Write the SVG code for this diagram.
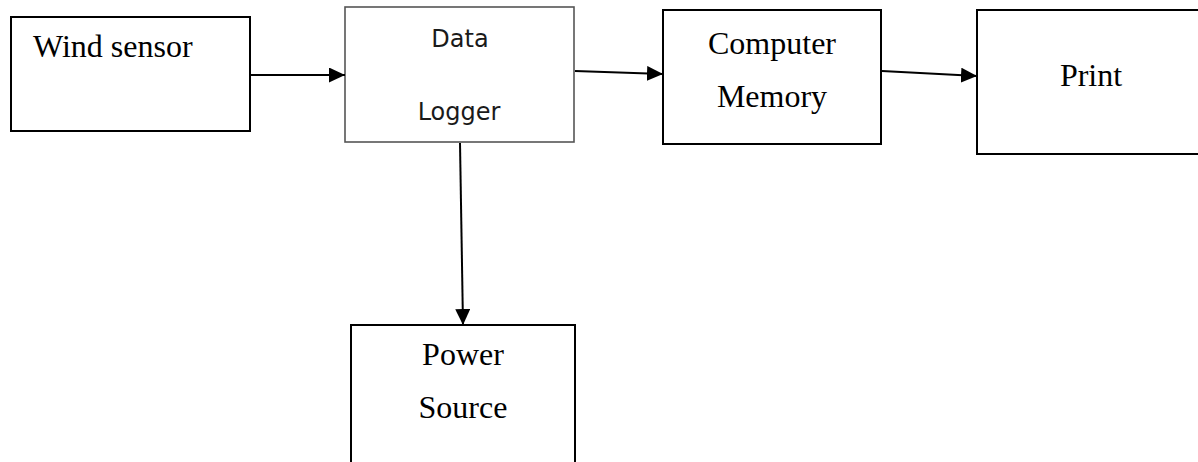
<svg xmlns="http://www.w3.org/2000/svg" width="1198" height="462" viewBox="0 0 1198 462">
<style>
.box{fill:#fff;stroke:#000;stroke-width:2}
.gbox{fill:#fff;stroke:#555;stroke-width:1.6}
.t{font-family:"Liberation Serif","Times New Roman",serif;font-size:32px;fill:#000}
.p{font-family:"DejaVu Sans","Liberation Sans",sans-serif;font-size:24px;fill:#1a1a1a}
.c{stroke:#000;stroke-width:2;fill:none}
</style>
<defs>
<marker id="ah" markerWidth="16" markerHeight="15" refX="16" refY="7.5" orient="auto" markerUnits="userSpaceOnUse">
<path d="M0,0 L16,7.5 L0,15 Z" fill="#000"/>
</marker>
</defs>
<rect width="1198" height="462" fill="#fff"/>
<g id="wind-sensor">
<rect class="box" x="11" y="17" width="239" height="114"/>
<text class="t" x="33" y="57">Wind sensor</text>
</g>
<g id="data-logger">
<rect class="gbox" x="345" y="7" width="229" height="135"/>
<text class="p" x="460" y="47" text-anchor="middle">Data</text>
<text class="p" x="459" y="120" text-anchor="middle">Logger</text>
</g>
<g id="computer-memory">
<rect class="box" x="663" y="10" width="218" height="134"/>
<text class="t" x="772" y="54" text-anchor="middle">Computer</text>
<text class="t" x="772" y="107" text-anchor="middle">Memory</text>
</g>
<g id="print">
<rect class="box" x="977" y="10" width="230" height="144"/>
<text class="t" x="1091" y="86" text-anchor="middle">Print</text>
</g>
<g id="power-source">
<rect class="box" x="351" y="325" width="224" height="140"/>
<text class="t" x="463" y="365" text-anchor="middle">Power</text>
<text class="t" x="463" y="418" text-anchor="middle">Source</text>
</g>
<g id="connectors">
<line class="c" x1="251" y1="75" x2="345" y2="75" marker-end="url(#ah)"/>
<line class="c" x1="575" y1="71" x2="663" y2="74" marker-end="url(#ah)"/>
<line class="c" x1="882" y1="71" x2="977" y2="76" marker-end="url(#ah)"/>
<line class="c" x1="460" y1="143" x2="463" y2="325" marker-end="url(#ah)"/>
</g>
</svg>
